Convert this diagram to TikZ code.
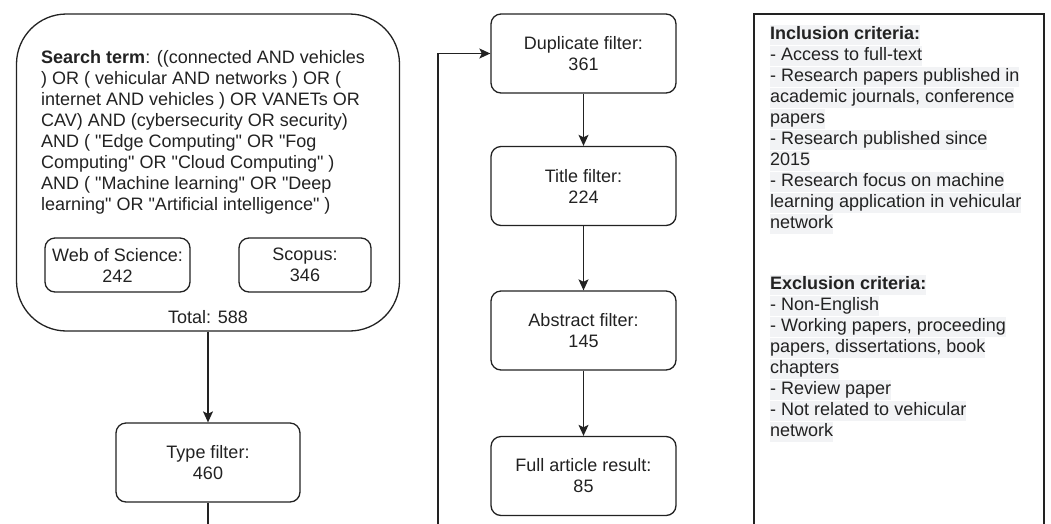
\documentclass[tikz,border=0pt]{standalone}
\usepackage{fontspec}
\setmainfont{Liberation Sans}[Ligatures=TeXOff]
\usetikzlibrary{arrows.meta}
\definecolor{ink}{HTML}{222222}
\definecolor{hlgray}{HTML}{F2F3F5}
% one highlighted line of the criteria list
\newcommand\hlrow[1]{{\setlength\fboxsep{0pt}\colorbox{hlgray}{\rule[-5.5pt]{0pt}{20.5pt}#1}}}
\begin{document}
\begin{tikzpicture}[x=1pt,y=-1pt,
  font=\fontsize{18}{21}\selectfont, text=ink,
  box/.style={draw=ink, line width=1.3pt, rounded corners=10pt, align=center, inner sep=0pt},
  stage/.style={box, minimum width=185pt, minimum height=79pt},
  flow/.style={draw=ink, line width=1.3pt, -{Stealth[length=11pt,width=10pt,inset=2.5pt]}}]
\useasboundingbox (0,0) rectangle (1051,523);
\clip (0,0) rectangle (1051,523);
\fill[white] (0,0) rectangle (1051,523);

% search block
\node[box, rounded corners=50pt, minimum width=383pt, minimum height=317pt] (search) at (208,172.5) {};
\node[anchor=north west, align=left, inner sep=0pt] (query) at (41,50)
  {\textbf{Search term}: ((connected AND vehicles\\
   ) OR ( vehicular AND networks ) OR (\\
   internet AND vehicles ) OR VANETs OR\\
   CAV) AND (cybersecurity OR security)\\
   AND ( "Edge Computing" OR "Fog\\
   Computing" OR "Cloud Computing" )\\
   AND ( "Machine learning" OR "Deep\\
   learning" OR "Artificial intelligence" )};
\node[box, minimum width=145pt, minimum height=54pt] (wos) at (117.5,265) {Web of Science:\\242};
\node[box, minimum width=132pt, minimum height=54pt] (scopus) at (305,265) {Scopus:\\346};
\node[inner sep=0pt] (total) at (208,317) {Total: 588};

% type filter
\node[stage, minimum width=184pt] (type) at (208,462.5) {Type filter:\\460};

% filtering stages
\node[stage] (dup) at (583.5,53.5) {Duplicate filter:\\361};
\node[stage] (title) at (583.5,186) {Title filter:\\224};
\node[stage] (abs) at (583.5,330.5) {Abstract filter:\\145};
\node[stage] (full) at (583.5,476) {Full article result:\\85};

% criteria panel
\node[draw=ink, line width=1.3pt, minimum width=290pt, minimum height=560pt, inner sep=0pt] (crit) at (899,294) {};
\node[anchor=north west, align=left, inner sep=0pt] (crittext) at (770,24.5)
  {\hlrow{\textbf{Inclusion criteria:}}\\
   \hlrow{- Access to full-text}\\
   \hlrow{- Research papers published in}\\
   \hlrow{academic journals, conference}\\
   \hlrow{papers}\\
   \hlrow{- Research published since}\\
   \hlrow{2015}\\
   \hlrow{- Research focus on machine}\\
   \hlrow{learning application in vehicular}\\
   \hlrow{network}\\[40pt]
   \hlrow{\textbf{Exclusion criteria:}}\\
   \hlrow{- Non-English}\\
   \hlrow{- Working papers, proceeding}\\
   \hlrow{papers, dissertations, book}\\
   \hlrow{chapters}\\
   \hlrow{- Review paper}\\
   \hlrow{- Not related to vehicular}\\
   \hlrow{network}};

% connectors
\coordinate (loop) at (438,600);
\draw[flow] (search) -- (type);
\draw[flow] (type.south) |- (loop) |- (dup.west);
\draw[flow] (dup) -- (title);
\draw[flow] (title) -- (abs);
\draw[flow] (abs) -- (full);
\end{tikzpicture}
\end{document}
